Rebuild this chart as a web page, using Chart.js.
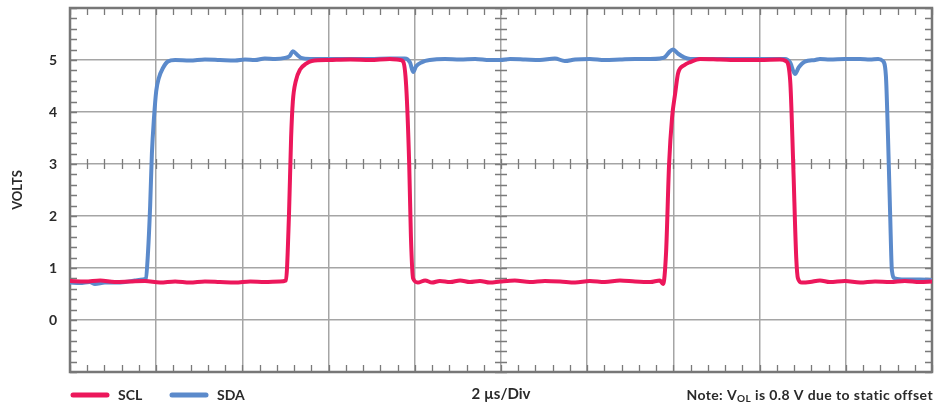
<!DOCTYPE html>
<html>
<head>
<meta charset="utf-8">
<script src="https://cdn.jsdelivr.net/npm/chart.js@4.4.1/dist/chart.umd.min.js"></script>
<style>
  html, body { margin: 0; padding: 0; background: #fff; }
  #wrap { width: 946px; height: 404px; }
</style>
</head>
<body>
<div id="wrap"><canvas id="scope" width="946" height="404"></canvas></div>
<script>
// time in µs (2 µs per division, 10 divisions), voltage in V
const sclTime = [0.00, 0.35, 0.70, 1.04, 1.39, 1.74, 2.09, 2.44, 2.78, 3.13, 3.48, 3.83, 4.18, 4.52, 4.87, 5.01,
  5.08, 5.13, 5.17, 5.24, 5.34, 5.48, 5.61, 6.03, 6.50, 6.96, 7.42, 7.66, 7.73, 7.80, 7.87, 7.91, 7.96,
  8.07, 8.24, 8.40, 8.58, 8.82, 9.05, 9.28, 9.51, 9.74, 9.98, 10.32, 10.67, 11.02, 11.37, 11.72, 12.06,
  12.41, 12.76, 13.11, 13.46, 13.69, 13.76, 13.83, 13.90, 13.97, 14.04, 14.11, 14.25, 14.39, 14.62,
  15.08, 15.55, 16.01, 16.47, 16.61, 16.71, 16.78, 16.85, 16.89, 16.98, 17.17, 17.40, 17.63, 17.98,
  18.33, 18.68, 19.03, 19.37, 19.72, 20.00];
const sclVolts = [0.75, 0.74, 0.76, 0.73, 0.74, 0.75, 0.72, 0.74, 0.72, 0.74, 0.73, 0.72, 0.74, 0.73, 0.74, 0.76,
  2.0, 3.5, 4.2, 4.6, 4.82, 4.93, 4.98, 5.0, 5.01, 5.0, 5.02, 5.0, 4.97, 4.5, 3.0, 1.6, 0.8,
  0.72, 0.76, 0.72, 0.75, 0.73, 0.76, 0.73, 0.75, 0.72, 0.74, 0.76, 0.73, 0.75, 0.74, 0.72, 0.75,
  0.73, 0.76, 0.74, 0.73, 0.76, 0.69, 1.3, 3.0, 3.9, 4.35, 4.75, 4.9, 4.96, 5.02,
  5.01, 5.0, 5.0, 5.01, 4.98, 4.6, 3.0, 1.2, 0.8, 0.72, 0.73, 0.76, 0.73, 0.75,
  0.72, 0.74, 0.73, 0.75, 0.73, 0.74];

const sdaTime = [0.00, 0.23, 0.46, 0.58, 0.81, 1.04, 1.28, 1.51, 1.69, 1.76, 1.81, 1.86, 1.90, 1.95, 2.00, 2.06,
  2.16, 2.27, 2.44, 2.78, 3.13, 3.48, 3.83, 4.06, 4.29, 4.52, 4.76, 4.99, 5.10, 5.17, 5.27, 5.36, 5.57,
  6.03, 6.50, 6.96, 7.42, 7.77, 7.89, 7.96, 8.03, 8.17, 8.35, 8.70, 9.05, 9.40, 9.74, 9.98, 10.21,
  10.56, 10.90, 11.25, 11.48, 11.72, 12.06, 12.41, 12.76, 13.11, 13.46, 13.69, 13.81, 13.90, 13.99,
  14.11, 14.25, 14.39, 14.85, 15.31, 15.78, 16.24, 16.59, 16.71, 16.82, 16.91, 17.05, 17.29, 17.40,
  17.63, 17.98, 18.33, 18.56, 18.75, 18.86, 18.93, 18.98, 19.03, 19.07, 19.14, 19.37, 19.72, 20.00];
const sdaVolts = [0.72, 0.71, 0.73, 0.69, 0.72, 0.72, 0.73, 0.76, 0.78, 0.80, 1.3, 2.2, 3.2, 3.9, 4.4, 4.65,
  4.85, 4.97, 5.0, 4.99, 5.01, 5.0, 4.99, 5.01, 5.0, 5.03, 5.02, 5.04, 5.08, 5.17, 5.1, 5.04, 5.02,
  5.02, 5.02, 5.02, 5.03, 5.03, 4.95, 4.77, 4.88, 4.96, 5.0, 5.02, 5.01, 5.02, 5.0, 5.0, 5.02,
  5.01, 5.0, 5.03, 4.98, 5.01, 5.02, 5.0, 5.01, 5.02, 5.02, 5.03, 5.06, 5.15, 5.2,
  5.12, 5.05, 5.02, 5.02, 5.02, 5.02, 5.02, 5.02, 4.95, 4.73, 4.86, 4.97, 5.0, 5.02,
  5.01, 5.02, 5.02, 5.01, 5.02, 4.98, 4.7, 3.5, 2.0, 0.95, 0.8, 0.78, 0.78, 0.77];

const seriesNames = ['SCL', 'SDA'];
const seriesColors = ['#ec175b', '#5b8acb'];
const yTicks = [0, 1, 2, 3, 4, 5];

const FONT = 'Lato, "Open Sans", sans-serif';
const TEXT = '#2a2a2a';

function points(ts, vs) {
  return ts.map((t, i) => ({ x: t, y: vs[i] }));
}

// frame, minor ticks, legend and note
const scopeDecor = {
  id: 'scopeDecor',
  beforeDatasetsDraw(chart) {
    const { ctx, chartArea: a, scales: { x, y } } = chart;
    ctx.save();
    ctx.strokeStyle = '#7a7a7a';
    ctx.lineWidth = 1.3;
    ctx.beginPath();
    for (let t = 0; t <= 20.001; t += 0.4) {
      const px = Math.round(x.getPixelForValue(t)) + 0.5;
      ctx.moveTo(px, a.top); ctx.lineTo(px, a.top + 7);
      ctx.moveTo(px, a.bottom); ctx.lineTo(px, a.bottom - 7);
      const cy = y.getPixelForValue(3);
      ctx.moveTo(px, cy - 5); ctx.lineTo(px, cy + 5);
    }
    for (let v = -1; v <= 6.001; v += 0.2) {
      const py = Math.round(y.getPixelForValue(v)) + 0.5;
      ctx.moveTo(a.left, py); ctx.lineTo(a.left + 7, py);
      ctx.moveTo(a.right, py); ctx.lineTo(a.right - 7, py);
      const cx = x.getPixelForValue(10);
      ctx.moveTo(cx - 6, py); ctx.lineTo(cx + 6, py);
    }
    ctx.stroke();
    ctx.strokeStyle = '#777';
    ctx.lineWidth = 2.5;
    ctx.strokeRect(a.left, a.top, a.right - a.left, a.bottom - a.top);
    ctx.restore();
  },
  afterDraw(chart) {
    const { ctx, chartArea: a } = chart;
    ctx.save();
    const ly = 395;
    const lx = [71, 170];
    ctx.font = 'bold 14px ' + FONT;
    ctx.textBaseline = 'middle';
    chart.data.datasets.forEach((ds, i) => {
      ctx.strokeStyle = ds.borderColor;
      ctx.lineWidth = 5;
      ctx.lineCap = 'round';
      ctx.beginPath();
      ctx.moveTo(lx[i] + 2, ly); ctx.lineTo(lx[i] + 36, ly);
      ctx.stroke();
      ctx.fillStyle = TEXT;
      ctx.fillText(ds.label, lx[i] + 47, ly);
    });
    // note with subscript
    ctx.letterSpacing = '0.4px';
    const big = 'bold 14px ' + FONT, small = 'bold 10px ' + FONT;
    const p1 = 'Note: V', sub = 'OL', p2 = ' is 0.8 V due to static offset';
    ctx.font = big; const w1 = ctx.measureText(p1).width, w3 = ctx.measureText(p2).width;
    ctx.font = small; const w2 = ctx.measureText(sub).width;
    let nx = a.right + 1 - (w1 + w2 + w3);
    ctx.fillStyle = TEXT;
    ctx.font = big; ctx.fillText(p1, nx, ly); nx += w1;
    ctx.font = small; ctx.fillText(sub, nx, ly + 4); nx += w2;
    ctx.font = big; ctx.fillText(p2, nx, ly);
    ctx.restore();
  }
};

new Chart(document.getElementById('scope'), {
  type: 'line',
  data: {
    datasets: [
      { label: seriesNames[0], data: points(sclTime, sclVolts), borderColor: seriesColors[0] },
      { label: seriesNames[1], data: points(sdaTime, sdaVolts), borderColor: seriesColors[1] }
    ]
  },
  options: {
    responsive: false,
    animation: false,
    devicePixelRatio: 1,
    layout: { padding: { top: 8, right: 14, left: 0, bottom: 0 } },
    elements: {
      line: { borderWidth: 4, cubicInterpolationMode: 'monotone', borderJoinStyle: 'round', borderCapStyle: 'round' },
      point: { radius: 0 }
    },
    plugins: { legend: { display: false }, tooltip: { enabled: false } },
    scales: {
      x: {
        type: 'linear', min: 0, max: 20,
        ticks: { stepSize: 2, display: false },
        grid: { color: '#a5a5a5', lineWidth: 1.5, drawTicks: false },
        border: { display: false },
        title: { display: true, text: '2 µs/Div', color: TEXT, font: { family: FONT, size: 15, weight: 'bold' }, padding: { top: 0, bottom: 1 } },
        afterFit(s) { s.height = 32; s.paddingLeft = 0; s.paddingRight = 0; }
      },
      y: {
        min: -1, max: 6,
        afterBuildTicks(s) { s.ticks = [-1, ...yTicks, 6].map(v => ({ value: v })); },
        ticks: {
          padding: 13, color: TEXT,
          font: { family: FONT, size: 14, weight: 'bold' },
          callback: v => yTicks.includes(v) ? String(v) : ''
        },
        grid: { color: '#a5a5a5', lineWidth: 1.5, drawTicks: false },
        border: { display: false },
        title: { display: true, text: 'VOLTS', color: TEXT, font: { family: FONT, size: 13, weight: 'bold' }, padding: { top: 10, bottom: 0 } },
        afterFit(s) { s.width = 70; s.paddingTop = 0; s.paddingBottom = 0; }
      }
    }
  },
  plugins: [scopeDecor]
});
</script>
</body>
</html>
